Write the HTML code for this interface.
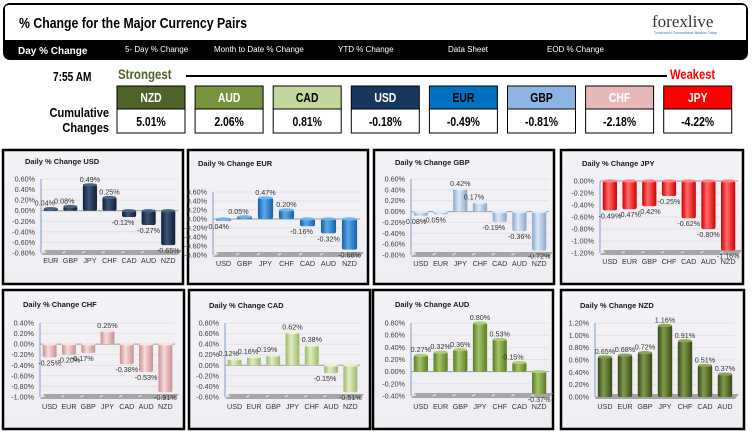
<!DOCTYPE html>
<html><head><meta charset="utf-8">
<style>
html,body{margin:0;padding:0;background:#fff;}
body{width:752px;height:432px;overflow:hidden;font-family:"Liberation Sans",sans-serif;}
svg text{font-family:"Liberation Sans",sans-serif;}
</style></head>
<body>
<svg id="root" width="752" height="432" viewBox="0 0 752 432" xmlns="http://www.w3.org/2000/svg">
<defs id="defs"></defs>
<g>
  <rect x="3" y="3" width="745" height="57" rx="7" fill="#000"/>
  <path d="M5 40 V8 Q5 5 9 5 H742 Q746 5 746 8 V40 Z" fill="#fff"/>
  <text x="19" y="28" font-size="15" font-weight="bold" transform="translate(19 0) scale(0.82 1) translate(-19 0)">% Change for the Major Currency Pairs</text>
  <text x="652" y="27" font-size="17" style="font-family:'Liberation Serif',serif" fill="#333">forexlive</text>
  <text x="654" y="34" font-size="3.5" fill="#3a6fb0">Tomorrow's Conventional Wisdom Today</text>
  <text x="18" y="54" font-size="10" font-weight="bold" fill="#fff">Day % Change</text>
  <text x="125" y="52" font-size="8" fill="#fff">5- Day % Change</text>
  <text x="214" y="52" font-size="8" fill="#fff">Month to Date % Change</text>
  <text x="338" y="52" font-size="8" fill="#fff">YTD % Change</text>
  <text x="448" y="52" font-size="8" fill="#fff">Data Sheet</text>
  <text x="547" y="52" font-size="8" fill="#fff">EOD % Change</text>
</g>
<g>
  <text x="53" y="81" font-size="13" font-weight="bold" transform="translate(53 0) scale(0.78 1) translate(-53 0)">7:55 AM</text>
  <text x="118" y="79" font-size="14" font-weight="bold" fill="#4f6228" transform="translate(118 0) scale(0.82 1) translate(-118 0)">Strongest</text>
  <line x1="186" y1="76" x2="667" y2="76" stroke="#000" stroke-width="2"/>
  <text x="670" y="79" font-size="14" font-weight="bold" fill="#ff0000" transform="translate(670 0) scale(0.8 1) translate(-670 0)">Weakest</text>
  <text x="109" y="117" font-size="13" font-weight="bold" text-anchor="end" transform="translate(109 0) scale(0.85 1) translate(-109 0)">Cumulative</text>
  <text x="109" y="132" font-size="13" font-weight="bold" text-anchor="end" transform="translate(109 0) scale(0.85 1) translate(-109 0)">Changes</text>
  <g id="boxes"></g>
</g>
<g id="charts"></g>
</svg>
<script>
const rankCurrencies=['NZD','AUD','CAD','USD','EUR','GBP','CHF','JPY'];
const rankValues=[5.01,2.06,0.81,-0.18,-0.49,-0.81,-2.18,-4.22];

const usdCats=['EUR','GBP','JPY','CHF','CAD','AUD','NZD'];
const usdVals=[0.04,0.08,0.49,0.25,-0.12,-0.27,-0.65];
const usdTicks=[0.6,0.4,0.2,0,-0.2,-0.4,-0.6,-0.8];
const eurCats=['USD','GBP','JPY','CHF','CAD','AUD','NZD'];
const eurVals=[-0.04,0.05,0.47,0.20,-0.16,-0.32,-0.68];
const eurTicks=[0.6,0.4,0.2,0,-0.2,-0.4,-0.6,-0.8];
const gbpCats=['USD','EUR','JPY','CHF','CAD','AUD','NZD'];
const gbpVals=[-0.08,-0.05,0.42,0.17,-0.19,-0.36,-0.72];
const gbpTicks=[0.6,0.4,0.2,0,-0.2,-0.4,-0.6,-0.8];
const jpyCats=['USD','EUR','GBP','CHF','CAD','AUD','NZD'];
const jpyVals=[-0.49,-0.47,-0.42,-0.25,-0.62,-0.80,-1.16];
const jpyTicks=[0,-0.2,-0.4,-0.6,-0.8,-1.0,-1.2];
const chfCats=['USD','EUR','GBP','JPY','CAD','AUD','NZD'];
const chfVals=[-0.25,-0.20,-0.17,0.25,-0.38,-0.53,-0.91];
const chfTicks=[0.4,0.2,0,-0.2,-0.4,-0.6,-0.8,-1.0];
const cadCats=['USD','EUR','GBP','JPY','CHF','AUD','NZD'];
const cadVals=[0.12,0.16,0.19,0.62,0.38,-0.15,-0.51];
const cadTicks=[0.8,0.6,0.4,0.2,0,-0.2,-0.4,-0.6];
const audCats=['USD','EUR','GBP','JPY','CHF','CAD','NZD'];
const audVals=[0.27,0.32,0.36,0.80,0.53,0.15,-0.37];
const audTicks=[0.8,0.6,0.4,0.2,0,-0.2,-0.4];
const nzdCats=['USD','EUR','GBP','JPY','CHF','CAD','AUD'];
const nzdVals=[0.65,0.68,0.72,1.16,0.91,0.51,0.37];
const nzdTicks=[1.2,1.0,0.8,0.6,0.4,0.2,0];

const NS='http://www.w3.org/2000/svg';
function mk(tag,attrs,parent){const e=document.createElementNS(NS,tag);for(const k in attrs)e.setAttribute(k,attrs[k]);if(parent)parent.appendChild(e);return e;}

const boxColors={NZD:['#4f6228','#fff'],AUD:['#77933c','#fff'],CAD:['#c3d69b','#000'],USD:['#17375e','#fff'],EUR:['#0070c0','#000'],GBP:['#8db4e2','#000'],CHF:['#e6b9b8','#fff'],JPY:['#ff0000','#fff']};
const boxes=document.getElementById('boxes');
rankCurrencies.forEach((c,i)=>{
  const x=117+i*78.1, w=68;
  const g=mk('g',{},boxes);
  
  
  mk('rect',{x:x,y:86,width:w,height:23,fill:boxColors[c][0],stroke:'#000','stroke-width':1},g);
  mk('rect',{x:x,y:109,width:w,height:24,fill:'#fff',stroke:'#000','stroke-width':1},g);
  const t=mk('text',{x:x+w/2,y:102,'font-size':13,'font-weight':'bold','text-anchor':'middle',fill:boxColors[c][1],transform:`translate(${x+w/2} 0) scale(0.8 1) translate(${-(x+w/2)} 0)`},g);
  t.textContent=c;
  const v=mk('text',{x:x+w/2,y:126,'font-size':13,'font-weight':'bold','text-anchor':'middle',fill:'#000',transform:`translate(${x+w/2} 0) scale(0.8 1) translate(${-(x+w/2)} 0)`},g);
  v.textContent=rankValues[i].toFixed(2)+'%';
});

const defs=document.getElementById('defs');
function grad(id,dark,light){
  const g=mk('linearGradient',{id:id,x1:0,y1:0,x2:1,y2:0},defs);
  mk('stop',{offset:'0',"stop-color":dark},g);
  mk('stop',{offset:'0.4',"stop-color":light},g);
  mk('stop',{offset:'1',"stop-color":dark},g);
}
grad('gUSD','#0f1f38','#3a5478');
grad('gEUR','#1660a8','#5aa8ea');
grad('gGBP','#8aa8cc','#dbe8f7');
grad('gJPY','#d00000','#ff6a6a');
grad('gCHF','#c99090','#f6dada');
grad('gCAD','#9cb86a','#e0edc4');
grad('gAUD','#5a7a26','#a4c46a');
grad('gNZD','#3a4a1a','#7f9a4a');
const pg=mk('linearGradient',{id:'panelBg',x1:0,y1:0,x2:0,y2:1},defs);
mk('stop',{offset:'0','stop-color':'#f3f2f6'},pg);
mk('stop',{offset:'1','stop-color':'#efedf2'},pg);

const charts=[
 {name:'usd',title:'Daily % Change USD',box:[3,150,183,284],ax:41,rx:178,yT:179,yB:253,catY:263,tx:25,ty:164,cats:usdCats,vals:usdVals,ticks:usdTicks,fill:'gUSD',top:'#4a6488'},
 {name:'eur',title:'Daily % Change EUR',box:[188,150,368,284],ax:213,rx:360,yT:192,yB:255,catY:266,tx:198,ty:166,cats:eurCats,vals:eurVals,ticks:eurTicks,fill:'gEUR',top:'#6ab4f0'},
 {name:'gbp',title:'Daily % Change GBP',box:[374,150,554,284],ax:411,rx:549,yT:179,yB:255,catY:266,tx:395,ty:165,cats:gbpCats,vals:gbpVals,ticks:gbpTicks,fill:'gGBP',top:'#e4eefa'},
 {name:'jpy',title:'Daily % Change JPY',box:[561,150,743,284],ax:600,rx:738,yT:181,yB:253,catY:264,tx:582,ty:166,cats:jpyCats,vals:jpyVals,ticks:jpyTicks,fill:'gJPY',top:'#ff8080'},
 {name:'chf',title:'Daily % Change CHF',box:[3,290,184,429],ax:40,rx:175,yT:323,yB:397,catY:409,tx:23,ty:307,cats:chfCats,vals:chfVals,ticks:chfTicks,fill:'gCHF',top:'#f8e2e2'},
 {name:'cad',title:'Daily % Change CAD',box:[189,290,370,429],ax:225,rx:360,yT:323,yB:397,catY:409,tx:209,ty:308,cats:cadCats,vals:cadVals,ticks:cadTicks,fill:'gCAD',top:'#e8f2d2'},
 {name:'aud',title:'Daily % Change AUD',box:[373,290,553,429],ax:411,rx:549,yT:323,yB:396,catY:409,tx:395,ty:307,cats:audCats,vals:audVals,ticks:audTicks,fill:'gAUD',top:'#b0cc78'},
 {name:'nzd',title:'Daily % Change NZD',box:[561,290,744,429],ax:595,rx:735,yT:323,yB:397,catY:409,tx:580,ty:308,cats:nzdCats,vals:nzdVals,ticks:nzdTicks,fill:'gNZD',top:'#8aa458'}
];

const root=document.getElementById('charts');
charts.forEach(c=>{
  const g=mk('g',{},root);
  
  
  const [bx,by,bx2,by2]=c.box;
  const frame=mk('rect',{x:bx,y:by,width:bx2-bx,height:by2-by,fill:'url(#panelBg)',stroke:'#000','stroke-width':2.5},g);
  
  
  const t=mk('text',{x:c.tx,y:c.ty,'font-size':7.5,'font-weight':'bold',fill:'#1a1a1a'},g);
  
  
  t.textContent=c.title;
  const ymax=Math.max(...c.ticks), ymin=Math.min(...c.ticks);
  const Y=v=>c.yT+(ymax-v)/(ymax-ymin)*(c.yB-c.yT);
  const band=(c.rx-c.ax)/c.cats.length;
  const X=i=>c.ax+band*(i+0.5);
  c.ticks.forEach(tv=>{
    const y=Y(tv);
    if(tv!==0){mk('line',{x1:c.ax,y1:y,x2:c.rx,y2:y,stroke:'#dcdcdc','stroke-width':0.7},g);}
    const tl=mk('text',{x:c.ax-6,y:y+2.5,'font-size':7.2,'text-anchor':'end',fill:'#404040'},g);
    
    
    tl.textContent=tv.toFixed(2)+'%';
  });
  const fy=Y(ymin);
  mk('path',{d:`M${c.ax} ${fy+2} L${c.ax+4} ${fy-3} L${c.rx+4} ${fy-3} L${c.rx} ${fy+2} Z`,fill:'#a6a6a6'},g);
  c.cats.forEach((_,i)=>{mk('line',{x1:X(i)-band/2+2,y1:fy,x2:X(i)-band/2+5,y2:fy-1.5,stroke:'#eee','stroke-width':1},g);});
  mk('line',{x1:c.ax,y1:c.yT,x2:c.ax,y2:fy,stroke:'#7f9fc6','stroke-width':1},g);
  const zy=Y(0);
  mk('line',{x1:c.ax,y1:zy,x2:c.rx,y2:zy,stroke:'#999','stroke-width':1},g);
  const bw=band*0.72;
  c.vals.forEach((v,i)=>{
    const x=X(i)-bw/2, y0=Y(0), y1=Y(v);
    const top=Math.min(y0,y1), h=Math.max(Math.abs(y1-y0),1);
    const b=mk('rect',{x:x,y:top,width:bw,height:h,rx:2,fill:`url(#${c.fill})`},g);
    
    
    mk('ellipse',{cx:X(i),cy:v>=0?y1:y0,rx:bw/2,ry:1.6,fill:c.top},g);
    const lab=mk('text',{x:X(i)-(Math.abs(v)<0.2?6:0),y:v>=0?y1-3:y1+8,'font-size':7.2,'text-anchor':'middle',fill:'#333'},g);
    
    
    lab.textContent=v.toFixed(2)+'%';
    const cl=mk('text',{x:X(i),y:c.catY,'font-size':7.2,'text-anchor':'middle',fill:'#333'},g);
    
    
    cl.textContent=c.cats[i];
  });
});
</script>
</body></html>
